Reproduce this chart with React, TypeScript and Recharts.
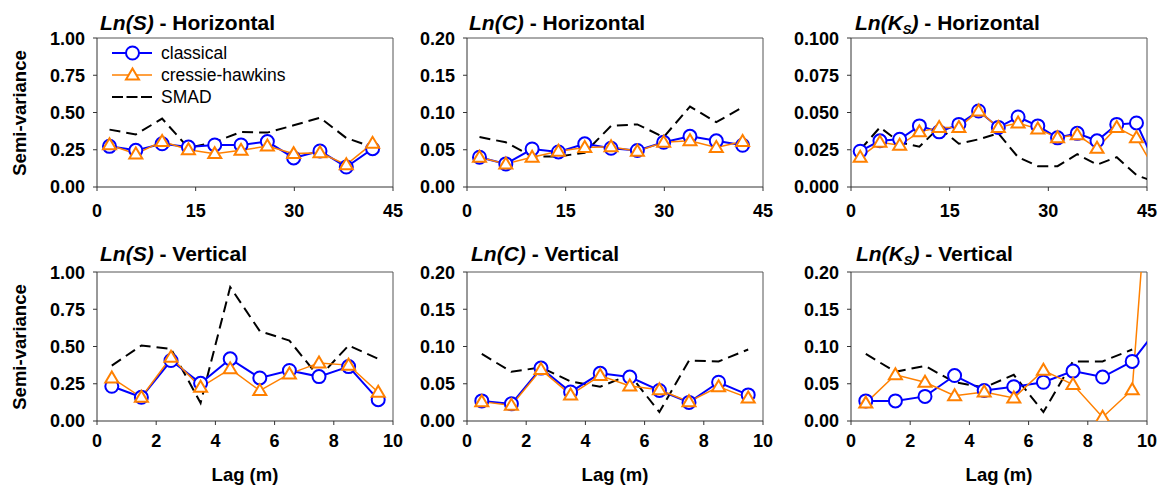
import React from 'react';
import { LineChart, Line, XAxis, YAxis, ReferenceLine } from 'recharts';

// lag distances (m)
const lagsH = [1.9, 5.9, 9.9, 13.9, 17.9, 21.9, 25.9, 29.9, 33.9, 37.9, 41.9];
const lagsHK = [1.4, 4.4, 7.4, 10.4, 13.4, 16.4, 19.4, 22.4, 25.4, 28.4, 31.4, 34.4, 37.4, 40.4, 43.4, 46.4];
const lagsV = [0.5, 1.5, 2.5, 3.5, 4.5, 5.5, 6.5, 7.5, 8.5, 9.5];
const lagsVK = [0.5, 1.5, 2.5, 3.5, 4.5, 5.5, 6.5, 7.5, 8.5, 9.5, 10.5];

// Ln(S) - Horizontal
const sHClassical = [0.273, 0.246, 0.29, 0.268, 0.282, 0.282, 0.305, 0.195, 0.242, 0.134, 0.257];
const sHCressie = [0.284, 0.222, 0.306, 0.25, 0.224, 0.246, 0.275, 0.224, 0.23, 0.15, 0.293];
const sHSmad = [0.385, 0.353, 0.459, 0.262, 0.302, 0.369, 0.365, 0.414, 0.465, 0.329, 0.268];

// Ln(C) - Horizontal
const cHClassical = [0.04, 0.031, 0.051, 0.047, 0.058, 0.052, 0.049, 0.06, 0.068, 0.062, 0.056];
const cHCressie = [0.04, 0.031, 0.04, 0.048, 0.053, 0.054, 0.048, 0.06, 0.062, 0.053, 0.061];
const cHSmad = [0.067, 0.06, 0.041, 0.041, 0.046, 0.082, 0.084, 0.067, 0.108, 0.087, 0.107];

// Ln(Ks) - Horizontal
const kHClassical = [0.024, 0.031, 0.032, 0.041, 0.037, 0.042, 0.051, 0.04, 0.047, 0.041, 0.033, 0.036, 0.031, 0.042, 0.043, 0.014];
const kHCressie = [0.02, 0.03, 0.028, 0.037, 0.04, 0.04, 0.051, 0.04, 0.043, 0.039, 0.033, 0.035, 0.026, 0.04, 0.033, 0.01];
const kHSmad = [0.025, 0.04, 0.03, 0.027, 0.04, 0.029, 0.032, 0.036, 0.02, 0.014, 0.014, 0.022, 0.015, 0.02, 0.008, 0.003];

// Ln(S) - Vertical
const sVClassical = [0.233, 0.159, 0.406, 0.253, 0.417, 0.289, 0.339, 0.298, 0.365, 0.143];
const sVCressie = [0.289, 0.159, 0.428, 0.226, 0.35, 0.204, 0.316, 0.39, 0.375, 0.193];
const sVSmad = [0.372, 0.507, 0.484, 0.121, 0.899, 0.603, 0.54, 0.294, 0.507, 0.417];

// Ln(C) - Vertical
const cVClassical = [0.027, 0.023, 0.071, 0.039, 0.064, 0.059, 0.041, 0.025, 0.052, 0.035];
const cVCressie = [0.026, 0.021, 0.069, 0.035, 0.061, 0.047, 0.042, 0.026, 0.046, 0.031];
const cVSmad = [0.09, 0.066, 0.072, 0.053, 0.046, 0.062, 0.012, 0.081, 0.08, 0.096];

// Ln(Ks) - Vertical
const kVClassical = [0.027, 0.027, 0.033, 0.061, 0.041, 0.046, 0.052, 0.067, 0.059, 0.08, 0.131];
const kVCressie = [0.024, 0.062, 0.052, 0.034, 0.039, 0.031, 0.068, 0.049, 0.005, 0.042, 0.57];
const kVSmad = [0.09, 0.066, 0.074, 0.052, 0.045, 0.062, 0.012, 0.08, 0.08, 0.096, null];

const ticksH = [0, 15, 30, 45];
const ticksV = [0, 2, 4, 6, 8, 10];
const ticksS = [0, 0.25, 0.5, 0.75, 1];
const ticksC = [0, 0.05, 0.1, 0.15, 0.2];
const ticksKH = [0, 0.025, 0.05, 0.075, 0.1];

const FONT = '"Liberation Sans", Arial, sans-serif';
const BLUE = '#0000FF';
const ORANGE = '#FF8000';

const build = (lags: number[], a: number[], b: number[], c: (number | null)[]) =>
    lags.map((lag, i) => ({ lag, classical: a[i], cressie: b[i], smad: c[i] }));

const Triangle = (props: any) => {
    const { cx, cy, index } = props;
    if (cx == null || cy == null) return <g key={index} />;
    return (
        <polygon
            key={index}
            points={`${cx},${cy - 6.5} ${cx - 6.5},${cy + 4.5} ${cx + 6.5},${cy + 4.5}`}
            fill="#fff"
            stroke={ORANGE}
            strokeWidth={2}
        />
    );
};

interface PanelProps {
    left: number;
    top: number;
    data: any[];
    xMax: number;
    xTicks: number[];
    yMax: number;
    yTicks: number[];
    digits: number;
    xTickMargin: number;
}

const PLOT_W = 296;
const PLOT_H = 149;
const Y_W = 90;

const Panel: React.FC<PanelProps> = ({ left, top, data, xMax, xTicks, yMax, yTicks, digits, xTickMargin }) => (
    <div style={{ position: 'absolute', left: left - Y_W, top: top - 10 }}>
        <LineChart width={Y_W + PLOT_W + 12} height={PLOT_H + 60} data={data}
            margin={{ top: 10, right: 12, left: 0, bottom: 0 }}>
            <XAxis dataKey="lag" type="number" domain={[0, xMax]} ticks={xTicks} allowDataOverflow
                height={50} tickSize={4} tickMargin={xTickMargin}
                stroke="#333" tick={{ fill: '#000', fontSize: 18, fontWeight: 'bold', fontFamily: FONT }} />
            <YAxis type="number" domain={[0, yMax]} ticks={yTicks} allowDataOverflow
                width={Y_W} tickSize={4} tickMargin={8} tickFormatter={(v: number) => v.toFixed(digits)}
                stroke="#333" tick={{ fill: '#000', fontSize: 18, fontWeight: 'bold', fontFamily: FONT }} />
            <ReferenceLine y={yMax} stroke="#555" strokeWidth={1} />
            <ReferenceLine x={xMax} stroke="#555" strokeWidth={1} />
            <Line dataKey="smad" stroke="#000" strokeWidth={2} strokeDasharray="11 6" dot={false}
                isAnimationActive={false} connectNulls={false} />
            <Line dataKey="classical" stroke={BLUE} strokeWidth={2}
                dot={{ r: 6.5, stroke: BLUE, strokeWidth: 2, fill: '#fff' }} isAnimationActive={false} />
            <Line dataKey="cressie" stroke={ORANGE} strokeWidth={1.5} dot={Triangle} isAnimationActive={false} />
        </LineChart>
    </div>
);

const titleStyle: React.CSSProperties = {
    position: 'absolute', fontFamily: FONT, fontWeight: 'bold', fontSize: 21, lineHeight: '20px',
    whiteSpace: 'nowrap', color: '#000',
};

const Title = ({ left, top, name, dir }: { left: number; top: number; name: React.ReactNode; dir: string }) => (
    <div style={{ ...titleStyle, left, top }}>
        <i>{name}</i> - {dir}
    </div>
);

const Ks = <>Ln(K<sub style={{ fontSize: 13, verticalAlign: '-4px' }}>S</sub>)</>;

const axisLabel: React.CSSProperties = {
    position: 'absolute', fontFamily: FONT, fontWeight: 'bold', fontSize: 18.5, lineHeight: '20px',
    whiteSpace: 'nowrap', color: '#000',
};

const Legend = () => (
    <div style={{ position: 'absolute', left: 112, top: 42, fontFamily: FONT, fontSize: 17.5 }}>
        <svg width={42} height={66} style={{ position: 'absolute', left: 0, top: 0 }}>
            <line x1={0} y1={11} x2={40} y2={11} stroke={BLUE} strokeWidth={2} />
            <circle cx={20.5} cy={11} r={6.5} stroke={BLUE} strokeWidth={2} fill="#fff" />
            <line x1={0} y1={33} x2={40} y2={33} stroke={ORANGE} strokeWidth={1.5} />
            <polygon points="20.5,26.5 14,37.5 27,37.5" fill="#fff" stroke={ORANGE} strokeWidth={2} />
            <line x1={0} y1={55} x2={40} y2={55} stroke="#000" strokeWidth={2} strokeDasharray="11 3.5" />
        </svg>
        <div style={{ position: 'absolute', left: 49, top: 1, lineHeight: '20px', whiteSpace: 'nowrap' }}>classical</div>
        <div style={{ position: 'absolute', left: 49, top: 23, lineHeight: '20px', whiteSpace: 'nowrap' }}>cressie-hawkins</div>
        <div style={{ position: 'absolute', left: 49, top: 45, lineHeight: '20px', whiteSpace: 'nowrap' }}>SMAD</div>
    </div>
);

const cols = [97, 467, 851];
const rows = [38, 272];

export default function App() {
    return (
        <div style={{ position: 'absolute', left: 0, top: 0, width: 1161, height: 487, background: '#fff', overflow: 'hidden' }}>
            <Panel left={cols[0]} top={rows[0]} data={build(lagsH, sHClassical, sHCressie, sHSmad)}
                xMax={45} xTicks={ticksH} yMax={1} yTicks={ticksS} digits={2} xTickMargin={13} />
            <Panel left={cols[1]} top={rows[0]} data={build(lagsH, cHClassical, cHCressie, cHSmad)}
                xMax={45} xTicks={ticksH} yMax={0.2} yTicks={ticksC} digits={2} xTickMargin={13} />
            <Panel left={cols[2]} top={rows[0]} data={build(lagsHK, kHClassical, kHCressie, kHSmad)}
                xMax={45} xTicks={ticksH} yMax={0.1} yTicks={ticksKH} digits={3} xTickMargin={13} />
            <Panel left={cols[0]} top={rows[1]} data={build(lagsV, sVClassical, sVCressie, sVSmad)}
                xMax={10} xTicks={ticksV} yMax={1} yTicks={ticksS} digits={2} xTickMargin={9} />
            <Panel left={cols[1]} top={rows[1]} data={build(lagsV, cVClassical, cVCressie, cVSmad)}
                xMax={10} xTicks={ticksV} yMax={0.2} yTicks={ticksC} digits={2} xTickMargin={9} />
            <Panel left={cols[2]} top={rows[1]} data={build(lagsVK, kVClassical, kVCressie, kVSmad)}
                xMax={10} xTicks={ticksV} yMax={0.2} yTicks={ticksC} digits={2} xTickMargin={9} />

            <Title left={100} top={13} name="Ln(S)" dir="Horizontal" />
            <Title left={469} top={13} name="Ln(C)" dir="Horizontal" />
            <Title left={855} top={13} name={Ks} dir="Horizontal" />
            <Title left={100} top={244} name="Ln(S)" dir="Vertical" />
            <Title left={471} top={244} name="Ln(C)" dir="Vertical" />
            <Title left={856} top={244} name={Ks} dir="Vertical" />

            <Legend />

            {rows.map((r) => (
                <div key={r} style={{ ...axisLabel, left: 19.5, top: r + PLOT_H / 2, transform: 'translate(-50%, -50%) rotate(-90deg)' }}>
                    Semi-variance
                </div>
            ))}
            {cols.map((c) => (
                <div key={c} style={{ ...axisLabel, left: c + PLOT_W / 2, top: 475, transform: 'translate(-50%, -50%)' }}>
                    Lag (m)
                </div>
            ))}
        </div>
    );
}
